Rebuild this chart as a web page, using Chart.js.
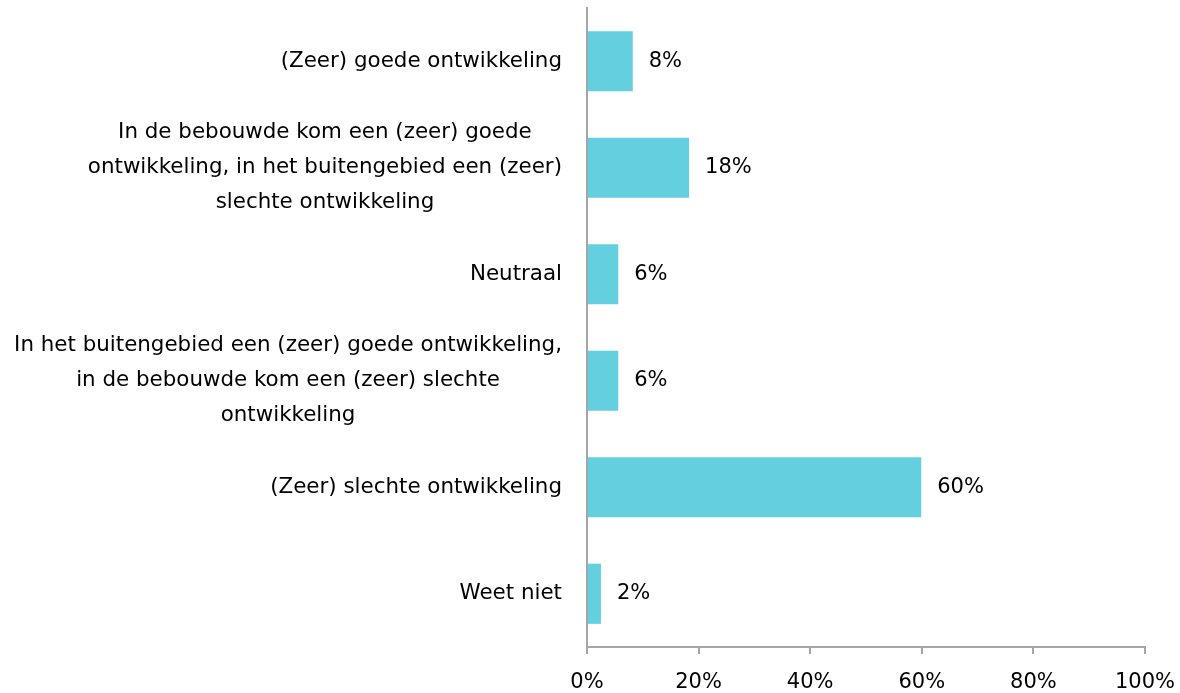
<!DOCTYPE html>
<html><head><meta charset="utf-8">
<script src="https://cdn.jsdelivr.net/npm/chart.js@4/dist/chart.umd.min.js"></script>
<style>html,body{margin:0;padding:0;background:#fff;}#wrap{width:1180px;height:693px;}</style>
</head><body><div id="wrap"><canvas id="c" width="1180" height="693"></canvas></div>
<script>
const categories = [
  ["(Zeer) goede ontwikkeling"],
  ["In de bebouwde kom een (zeer) goede", "ontwikkeling, in het buitengebied een (zeer)", "slechte ontwikkeling"],
  ["Neutraal"],
  ["In het buitengebied een (zeer) goede ontwikkeling,", "in de bebouwde kom een (zeer) slechte", "ontwikkeling"],
  ["(Zeer) slechte ontwikkeling"],
  ["Weet niet"]
];
const values = [8.2, 18.3, 5.6, 5.6, 59.9, 2.5];
const valueLabels = ["8%", "18%", "6%", "6%", "60%", "2%"];
const xTicks = [0, 20, 40, 60, 80, 100];

const FONT = "'DejaVu Sans', sans-serif";
const FS_CAT = 21.4;
const FS = 21;
const AXIS = '#a6a6a6';

const labelPlugin = {
  id: 'labels',
  afterDraw(chart) {
    const ctx = chart.ctx;
    const ys = chart.scales.y;
    const area = chart.chartArea;
    ctx.save();
    ctx.font = FS_CAT + 'px ' + FONT;
    ctx.fillStyle = '#000';
    ctx.textBaseline = 'middle';
    ctx.textAlign = 'center';
    const lh = 35;
    categories.forEach((lines, i) => {
      const cy = ys.getPixelForValue(i);
      const w = Math.max(...lines.map(l => ctx.measureText(l).width));
      const cx = area.left - 25 - w / 2;
      const y0 = cy - (lines.length - 1) * lh / 2;
      lines.forEach((l, k) => ctx.fillText(l, cx, y0 + k * lh));
    });
    const meta = chart.getDatasetMeta(0);
    ctx.font = FS + 'px ' + FONT;
    ctx.textAlign = 'left';
    meta.data.forEach((bar, i) => {
      ctx.fillText(valueLabels[i], bar.x + 16, bar.y);
    });
    ctx.restore();
  }
};

new Chart(document.getElementById('c'), {
  type: 'bar',
  data: {
    labels: categories.map(c => c.join(' ')),
    datasets: [{
      data: values,
      backgroundColor: '#63cfdf',
      borderWidth: 0,
      categoryPercentage: 1,
      barPercentage: 0.565
    }]
  },
  options: {
    indexAxis: 'y',
    responsive: false,
    animation: false,
    layout: { padding: { top: 8, right: 35, left: 0, bottom: 0 } },
    plugins: { legend: { display: false }, tooltip: { enabled: false } },
    scales: {
      y: {
        ticks: { display: false },
        grid: { display: false, drawTicks: false },
        border: { color: AXIS, width: 2 },
        afterFit(s) { s.width = 587; }
      },
      x: {
        min: 0, max: 100,
        afterBuildTicks(s) { s.ticks = xTicks.map(v => ({ value: v })); },
        ticks: {
          callback: v => v + '%',
          color: '#000',
          font: { family: FONT, size: FS },
          padding: 16,
          maxRotation: 0
        },
        grid: { drawOnChartArea: false, drawTicks: true, tickLength: 7, color: AXIS, lineWidth: 2 },
        border: { color: AXIS, width: 2 },
        afterFit(s) { s.height = 46; s.paddingLeft = 0; s.paddingRight = 0; }
      }
    }
  },
  plugins: [labelPlugin]
});
</script>
</body></html>
